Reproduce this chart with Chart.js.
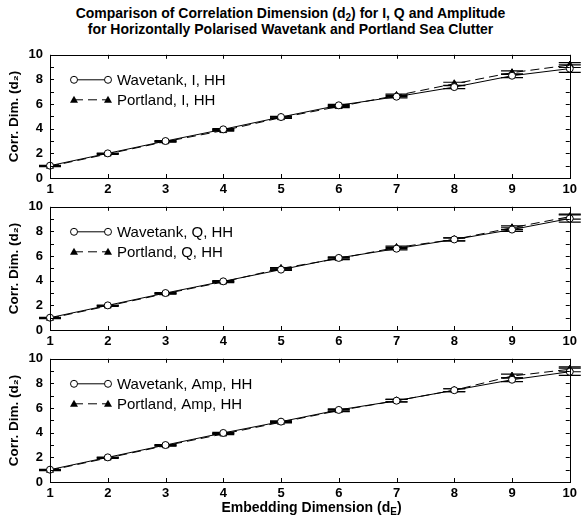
<!DOCTYPE html>
<html>
<head>
<meta charset="utf-8">
<script src="https://cdn.jsdelivr.net/npm/chart.js@4.4.1/dist/chart.umd.min.js"></script>
<style>
  body { margin: 0; background: #fff; width: 581px; height: 518px; position: relative; overflow: hidden; font-family: "Liberation Sans", Arial, sans-serif; }
  #title { position: absolute; left: 0; top: 5px; width: 581px; text-align: center; font-weight: bold; font-size: 14px; line-height: 16px; }
  #xtitle { position: absolute; left: 50px; top: 499px; width: 523px; text-align: center; font-weight: bold; font-size: 14px; line-height: 16px; }
  sub { font-size: 10px; vertical-align: -3px; line-height: 0; }
  canvas { position: absolute; left: 0; }
</style>
</head>
<body>
<div id="title">Comparison of Correlation Dimension (d<sub>2</sub>) for I, Q and Amplitude<br>for Horizontally Polarised Wavetank and Portland Sea Clutter</div>
<canvas id="chartI" width="581" height="157" style="top:40px"></canvas>
<canvas id="chartQ" width="581" height="157" style="top:192px"></canvas>
<canvas id="chartAmp" width="581" height="174" style="top:344px"></canvas>
<div id="xtitle">Embedding Dimension (d<sub>E</sub>)</div>
<script>
// embedding dimensions (x)
const dims = [1, 2, 3, 4, 5, 6, 7, 8, 9, 10];

// I channel
const wavetankI = [1.0, 2.0, 3.0, 3.95, 4.95, 5.9, 6.6, 7.38, 8.3, 8.88];
const portlandI = [0.95, 1.95, 2.95, 3.85, 4.9, 5.8, 6.7, 7.65, 8.55, 9.17];
// Q channel
const wavetankQ = [1.0, 2.0, 3.0, 3.95, 4.9, 5.85, 6.6, 7.35, 8.15, 9.05];
const portlandQ = [0.95, 1.95, 2.95, 3.9, 5.0, 5.8, 6.7, 7.35, 8.3, 9.2];
// Amplitude
const wavetankAmp = [1.0, 2.0, 3.0, 3.98, 4.9, 5.85, 6.6, 7.45, 8.3, 8.95];
const portlandAmp = [0.95, 1.95, 2.95, 3.9, 4.85, 5.8, 6.6, 7.45, 8.6, 9.15];

// error bar half-heights
const wavetankErr = [0.02, 0.03, 0.04, 0.05, 0.06, 0.08, 0.1, 0.12, 0.15, 0.3];
const portlandErr = [0.02, 0.03, 0.04, 0.05, 0.06, 0.08, 0.1, 0.12, 0.15, 0.2];

const yTicks = [0, 2, 4, 6, 8, 10];

const FONT = '"Liberation Sans", Arial, sans-serif';

// error bars with horizontal caps
const errorBars = {
  id: 'errorBars',
  beforeDatasetsDraw(chart) {
    const ctx = chart.ctx;
    const y = chart.scales.y;
    chart.data.datasets.forEach((ds, i) => {
      const meta = chart.getDatasetMeta(i);
      ctx.save();
      ctx.strokeStyle = '#000';
      ctx.lineWidth = 1.2;
      meta.data.forEach((pt, j) => {
        const v = ds.data[j].y, e = ds.errors[j];
        const top = y.getPixelForValue(v + e);
        const bot = y.getPixelForValue(v - e);
        ctx.beginPath();
        ctx.moveTo(pt.x, top); ctx.lineTo(pt.x, bot);
        ctx.moveTo(pt.x - 11, top); ctx.lineTo(pt.x + 11, top);
        ctx.moveTo(pt.x - 11, bot); ctx.lineTo(pt.x + 11, bot);
        ctx.stroke();
      });
      ctx.restore();
    });
  }
};

// box around plot with inward ticks
const frameTicks = {
  id: 'frameTicks',
  afterDraw(chart) {
    const { ctx, chartArea: a, scales } = chart;
    ctx.save();
    ctx.strokeStyle = '#000';
    ctx.lineWidth = 1;
    ctx.strokeRect(Math.round(a.left) + 0.5, Math.round(a.top) + 0.5, Math.round(a.right - a.left), Math.round(a.bottom - a.top));
    ctx.beginPath();
    dims.forEach(d => {
      const px = Math.round(scales.x.getPixelForValue(d)) + 0.5;
      ctx.moveTo(px, a.bottom); ctx.lineTo(px, a.bottom - 4);
      ctx.moveTo(px, a.top); ctx.lineTo(px, a.top + 4);
    });
    for (let v = 0; v <= 10; v++) {
      const py = Math.round(scales.y.getPixelForValue(v)) + 0.5;
      ctx.moveTo(a.left, py); ctx.lineTo(a.left + 4, py);
      ctx.moveTo(a.right, py); ctx.lineTo(a.right - 4, py);
    }
    ctx.stroke();
    ctx.restore();
  }
};

function drawMarker(ctx, style, x, y) {
  ctx.beginPath();
  if (style === 'circle') {
    ctx.arc(x, y, 3.5, 0, Math.PI * 2);
    ctx.fillStyle = '#fff';
    ctx.fill();
    ctx.stroke();
  } else {
    ctx.moveTo(x, y - 4);
    ctx.lineTo(x + 4, y + 3);
    ctx.lineTo(x - 4, y + 3);
    ctx.closePath();
    ctx.fillStyle = '#000';
    ctx.fill();
  }
}

// legend inside top-left: marker - line - marker, then text
const insideLegend = {
  id: 'insideLegend',
  afterDraw(chart) {
    const { ctx, chartArea: a } = chart;
    ctx.save();
    ctx.strokeStyle = '#000';
    ctx.lineWidth = 1;
    ctx.font = '15px ' + FONT;
    ctx.textBaseline = 'middle';
    chart.data.datasets.forEach((ds, i) => {
      const y = a.top + 25 + i * 20;
      const x0 = a.left + 24, x1 = a.left + 58;
      ctx.beginPath();
      ctx.setLineDash(ds.borderDash || []);
      ctx.moveTo(x0, y); ctx.lineTo(x1, y);
      ctx.stroke();
      ctx.setLineDash([]);
      drawMarker(ctx, ds.pointStyle, x0, y);
      drawMarker(ctx, ds.pointStyle, x1, y);
      ctx.fillStyle = '#000';
      ctx.fillText(ds.label, a.left + 67, y + 1);
    });
    ctx.restore();
  }
};

function makeSeries(label, vals, errs, solid) {
  return {
    label: label,
    data: dims.map((d, i) => ({ x: d, y: vals[i] })),
    errors: errs,
    borderColor: '#000',
    borderWidth: 1,
    borderDash: solid ? [] : [9, 5],
    pointStyle: solid ? 'circle' : 'triangle',
    pointRadius: solid ? 3.5 : 4,
    pointBackgroundColor: solid ? '#fff' : '#000',
    pointBorderColor: '#000',
    pointBorderWidth: 1,
    tension: 0,
    clip: false
  };
}

function makePanel(id, labels, wave, port, xHeight) {
  const ctx = document.getElementById(id).getContext('2d');
  return new Chart(ctx, {
    type: 'line',
    data: {
      datasets: [
        makeSeries(labels[0], wave, wavetankErr, true),
        makeSeries(labels[1], port, portlandErr, false)
      ]
    },
    options: {
      responsive: false,
      animation: false,
      layout: { padding: { top: 13, right: 8, left: 0, bottom: 0 } },
      plugins: { legend: { display: false }, tooltip: { enabled: false } },
      scales: {
        x: {
          type: 'linear',
          min: 1,
          max: 10,
          afterFit: s => { s.height = xHeight; },
          grid: { display: false, drawTicks: false },
          border: { display: false },
          ticks: { stepSize: 1, padding: 4, color: '#000', font: { family: FONT, size: 13, weight: 'bold' } }
        },
        y: {
          min: 0,
          max: 10,
          afterFit: s => { s.width = 50; },
          afterBuildTicks: s => { s.ticks = yTicks.map(v => ({ value: v })); },
          grid: { display: false, drawTicks: false },
          border: { display: false },
          ticks: { padding: 7, color: '#000', font: { family: FONT, size: 13, weight: 'bold' } },
          title: { display: true, text: 'Corr. Dim. (d\u2082)', color: '#000', padding: { top: 6, bottom: 0 }, font: { family: FONT, size: 13.5, weight: 'bold' } }
        }
      }
    },
    plugins: [errorBars, frameTicks, insideLegend]
  });
}

makePanel('chartI', ['Wavetank, I, HH', 'Portland, I, HH'], wavetankI, portlandI, 19);
makePanel('chartQ', ['Wavetank, Q, HH', 'Portland, Q, HH'], wavetankQ, portlandQ, 19);
makePanel('chartAmp', ['Wavetank, Amp, HH', 'Portland, Amp, HH'], wavetankAmp, portlandAmp, 36);
</script>
</body>
</html>
